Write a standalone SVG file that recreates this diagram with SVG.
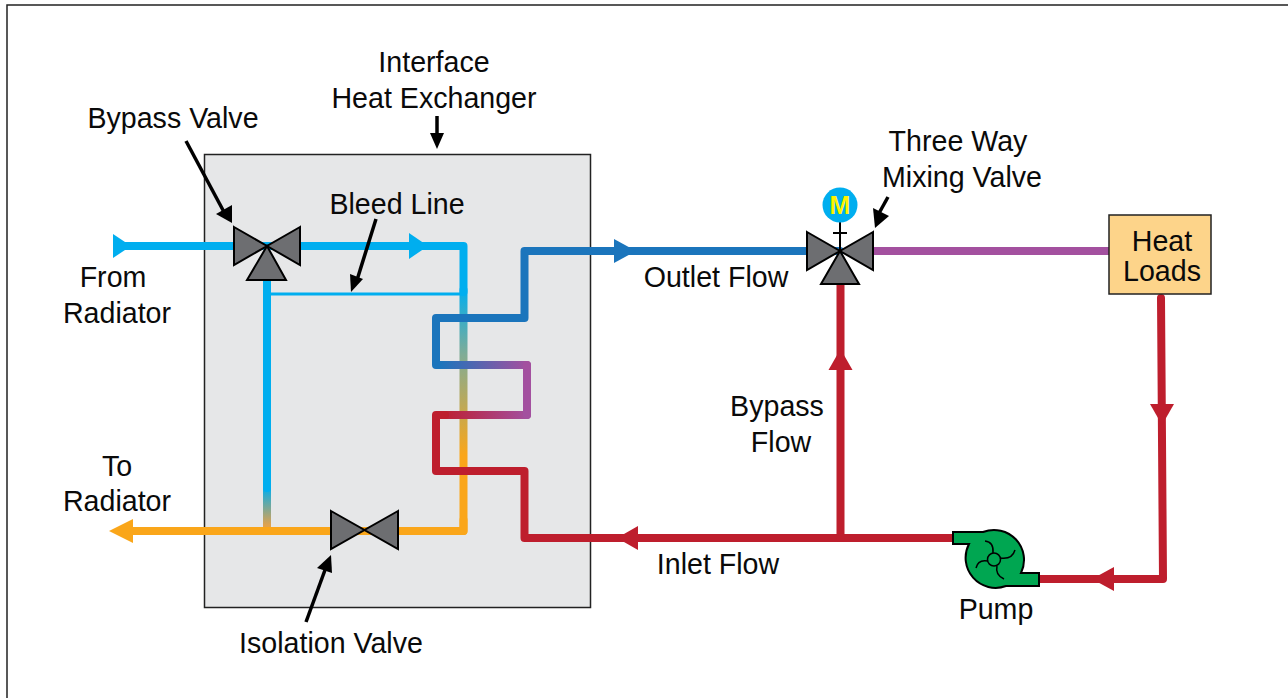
<svg xmlns="http://www.w3.org/2000/svg" width="1288" height="698" viewBox="0 0 1288 698">
<style>
text{font-family:"Liberation Sans",Arial,sans-serif;font-size:28.600px;fill:#0a0a0a;text-anchor:middle}
.p{fill:none;stroke-width:8;stroke-linejoin:round;stroke-linecap:round}
.v{fill:#6d6e71;stroke:#000;stroke-width:2;stroke-linejoin:miter}
.a{fill:none;stroke:#000;stroke-width:3.500}
.h{fill:#000}
</style>
<defs>
<linearGradient id="g1" gradientUnits="userSpaceOnUse" x1="0" y1="288" x2="0" y2="455"><stop offset="0" stop-color="#00aeef"/><stop offset="0.4" stop-color="#80ac96"/><stop offset="1" stop-color="#faa61a"/></linearGradient>
<linearGradient id="g2" gradientUnits="userSpaceOnUse" x1="0" y1="487" x2="0" y2="525"><stop offset="0" stop-color="#00aeef"/><stop offset="1" stop-color="#e0a24e"/></linearGradient>
<linearGradient id="g3" gradientUnits="userSpaceOnUse" x1="440" y1="0" x2="527" y2="0"><stop offset="0" stop-color="#1b75bc"/><stop offset="1" stop-color="#a3509f"/></linearGradient>
<linearGradient id="g4" gradientUnits="userSpaceOnUse" x1="440" y1="0" x2="527" y2="0"><stop offset="0" stop-color="#be1e2d"/><stop offset="1" stop-color="#a3509f"/></linearGradient>
</defs>
<rect id="frame" x="7" y="5" width="1290" height="700" fill="#fff" stroke="#222" stroke-width="1.500"/>
<g id="heat-exchanger"><rect x="204.500" y="154.500" width="386" height="453" fill="#e6e7e8" stroke="#222" stroke-width="1.500"/></g>
<g id="connectors">
<path class="p" d="M463.500 290V531" style="stroke:url(#g1)"/>
<path class="p" d="M267 488V531" style="stroke:url(#g2)"/>
<path class="p" stroke="#faa61a" d="M125 531H463.500V520"/>
<path class="p" stroke="#00aeef" d="M463.500 292V246H120M267 270V488"/>
<path d="M267 294H464" fill="none" stroke="#00aeef" stroke-width="3"/>
<path class="p" stroke="#1b75bc" d="M840 251H524.500V318H436V365H445"/>
<path class="p" d="M440 365H527" style="stroke:url(#g3)"/>
<path class="p" d="M440 415H527" style="stroke:url(#g4)"/>
<path class="p" stroke="#a3509f" d="M527 365V415"/>
<path class="p" stroke="#be1e2d" d="M445 415H436V471H524.500V538H955"/>
<path class="p" stroke="#be1e2d" d="M840.500 538V280"/>
<path class="p" stroke="#a3509f" stroke-linecap="butt" d="M873 251H1109"/>
<path class="p" stroke="#be1e2d" d="M1161 298L1163 579H1038"/>
<polygon points="113,234 131,246 113,258" fill="#00aeef"/>
<polygon points="409,233 428,246 409,259" fill="#00aeef"/>
<polygon points="614,239 636,251 614,263" fill="#1b75bc"/>
<polygon points="109,531 133,519 133,543" fill="#faa61a"/>
<polygon points="617,538 638,526 638,550" fill="#be1e2d"/>
<polygon points="840.500,349 828.500,370 852.500,370" fill="#be1e2d"/>
<polygon points="1150,404 1174,404 1162,425" fill="#be1e2d"/>
<polygon points="1092,579 1114,567 1114,591" fill="#be1e2d"/>
</g>
<g id="bypass-valve"><polygon class="v" points="234,227 267,246 234,265"/><polygon class="v" points="300,227 267,246 300,265"/><polygon class="v" points="267,246 247,280 286,280"/></g>
<g id="isolation-valve"><polygon class="v" points="331,511 364.500,530 331,549"/><polygon class="v" points="398,511 364.500,530 398,549"/></g>
<g id="mixing-valve"><path d="M840 222V252M833 233H847" stroke="#000" stroke-width="2" fill="none"/><polygon class="v" points="807,232 840,251 807,270"/><polygon class="v" points="873,232 840,251 873,270"/><polygon class="v" points="840,251 821,284 859,284"/><circle cx="840" cy="205" r="17.500" fill="#00aeef"/><text x="840" y="214" style="font-size:25px;font-weight:bold;fill:#fff200">M</text></g>
<g id="heat-loads"><rect x="1109" y="215" width="102" height="79" fill="#fdd48a" stroke="#222" stroke-width="1.500"/><text x="1162" y="250.500">Heat</text><text x="1162" y="280.500">Loads</text></g>
<g id="pump"><path d="M953 532H983A30 30 0 0 1 1021 573H1039V586H1006A30 30 0 0 1 969 544H953Z" fill="#00a651" stroke="#000" stroke-width="2"/><circle cx="994" cy="559.500" r="6.500" fill="none" stroke="#000" stroke-width="1.500"/><path d="M985 541Q994 542 993 553M1015 550Q1012 560 1000 558M1004 579Q995 575 997 566M976 568Q978 559 988 561" fill="none" stroke="#000" stroke-width="1.500"/></g>
<g id="labels" transform="translate(0,0.600)">
<text x="434" y="71">Interface</text><text x="434" y="107">Heat Exchanger</text>
<text x="173" y="127">Bypass Valve</text>
<text x="397" y="213">Bleed Line</text>
<text x="113" y="286">From</text><text x="117" y="322">Radiator</text>
<text x="117" y="475">To</text><text x="117" y="510">Radiator</text>
<text x="331" y="652">Isolation Valve</text>
<text x="716" y="286">Outlet Flow</text>
<text x="777" y="415">Bypass</text><text x="781" y="451">Flow</text>
<text x="718" y="573">Inlet Flow</text>
<text x="996" y="618">Pump</text>
<text x="958" y="150">Three Way</text><text x="962" y="186">Mixing Valve</text>
</g>
<g id="pointers">
<path class="a" d="M437 116V137"/><polygon class="h" points="430,133 437,149 444,133"/>
<path class="a" d="M186 141L224 212"/><polygon class="h" points="216,214 232,223 232,205"/>
<path class="a" d="M376 219L357 280"/><polygon class="h" points="350,274 351,292 363,279"/>
<path class="a" d="M888 197L878 215"/><polygon class="h" points="873,208 875,228 889,216"/>
<path class="a" d="M306 622L325 570"/><polygon class="h" points="317,568 331,555 332,573"/>
</g>
</svg>
